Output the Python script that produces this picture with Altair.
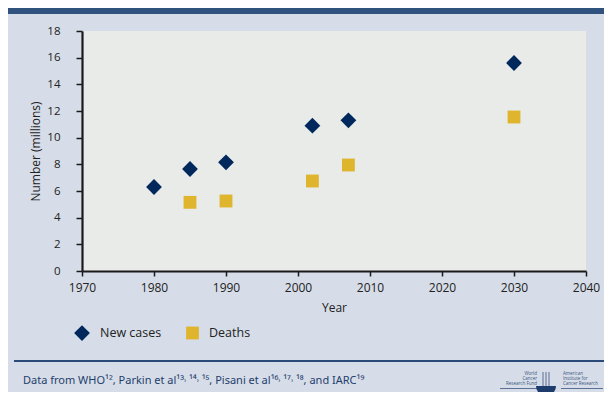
import altair as alt
import pandas as pd

# ---- data ----
years_cases = [1980, 1985, 1990, 2002, 2007, 2030]
new_cases = [6.3, 7.65, 8.15, 10.9, 11.3, 15.6]
years_deaths = [1985, 1990, 2002, 2007, 2030]
deaths = [5.15, 5.25, 6.75, 7.95, 11.55]
series_names = ["New cases", "Deaths"]
series_colors = ["#00285c", "#e0b52e"]
series_shapes = ["diamond", "square"]
series_sizes = [250, 165]
x_ticks = [1970, 1980, 1990, 2000, 2010, 2020, 2030, 2040]
y_ticks = [0, 2, 4, 6, 8, 10, 12, 14, 16, 18]
source_text = "Data from WHO¹², Parkin et al¹³˒ ¹⁴˒ ¹⁵, Pisani et al¹⁶˒ ¹⁷˒ ¹⁸, and IARC¹⁹"

df = pd.DataFrame({
    "Year": years_cases + years_deaths,
    "Value": new_cases + deaths,
    "Series": [series_names[0]] * len(years_cases) + [series_names[1]] * len(years_deaths),
})

FONT = "Open Sans"
NAVY = "#1f3d6c"
W, H = 504, 240
TOTAL_W, TOTAL_H = 596, 384
OX, OY = 82, 31  # page coordinates of the plot origin

points = alt.Chart(df).mark_point(filled=True, opacity=1, strokeWidth=0).encode(
    x=alt.X("Year:Q",
            scale=alt.Scale(domain=[1970, 2040], nice=False, zero=False),
            axis=alt.Axis(values=x_ticks, format="d", title="Year", grid=False, labelFlush=False,
                          domainColor="#1a1a1a", domainWidth=2.2, tickColor="#1a1a1a",
                          tickWidth=1.5, tickSize=5, labelFontSize=12, labelColor="#222",
                          labelFont=FONT, labelPadding=6, titleFont=FONT, titleFontSize=12,
                          titleFontWeight="normal", titleColor="#222", titlePadding=9)),
    y=alt.Y("Value:Q",
            scale=alt.Scale(domain=[0, 18], nice=False),
            axis=alt.Axis(values=y_ticks, title="Number (millions)", grid=False,
                          domainColor="#1a1a1a", domainWidth=2.2, tickColor="#1a1a1a",
                          tickWidth=1.5, tickSize=6, labelFontSize=11.5, labelColor="#222",
                          labelFont=FONT, labelPadding=16, titleFont=FONT, titleFontSize=12,
                          titleFontWeight="normal", titleColor="#222", titlePadding=4)),
    color=alt.Color("Series:N", scale=alt.Scale(domain=series_names, range=series_colors),
                    legend=alt.Legend(title=None, orient="none", legendX=-8, legendY=294,
                                      direction="horizontal", labelFont=FONT, labelFontSize=12.5,
                                      labelColor="#222", labelOffset=10, columnPadding=24,
                                      symbolStrokeWidth=0)),
    shape=alt.Shape("Series:N", scale=alt.Scale(domain=series_names, range=series_shapes)),
    size=alt.Size("Series:N", scale=alt.Scale(domain=series_names, range=series_sizes)),
)

one = pd.DataFrame({"k": [0]})


def txt(s, x, y, size=11.5, color=NAVY, align="left", baseline="middle", font=FONT):
    return alt.Chart(one).mark_text(text=s, align=align, baseline=baseline, font=font,
                                    fontSize=size, color=color).encode(
        x=alt.value(x), y=alt.value(y))


def rule(x1, x2, y, color=NAVY, width=2.0):
    return alt.Chart(one).mark_rule(color=color, strokeWidth=width).encode(
        x=alt.value(x1), x2=alt.value(x2), y=alt.value(y))


# header bar
header = alt.Chart(one).mark_rect(color="#30527f").encode(
    x=alt.value(8 - OX), x2=alt.value(8 + TOTAL_W - OX), y=alt.value(8 - OY), y2=alt.value(14 - OY))

layers = [header, points, rule(14 - OX, 8 + TOTAL_W - OX, 361 - OY, color="#2a4a78", width=2.2)]

# footer source text
layers.append(txt(source_text, 23 - OX, 381 - OY, size=11, font="Noto Sans"))

# small logo (World Cancer Research Fund / American Institute for Cancer Research)
lc = "#3a5680"
LX = -5
for i, s in enumerate(["World", "Cancer", "Research Fund"]):
    layers.append(txt(s, 542 + LX - OX, 374 + 5 * i - OY, size=4.5, color=lc, align="right"))
for i, s in enumerate(["American", "Institute for", "Cancer Research"]):
    layers.append(txt(s, 568 + LX - OX, 374 + 5 * i - OY, size=4.5, color=lc, align="left"))
layers.append(rule(505 + LX - OX, 544 + LX - OX, 388.5 - OY, color=lc, width=0.8))
layers.append(rule(566 + LX - OX, 603 - OX, 388.5 - OY, color=lc, width=0.8))
layers.append(alt.Chart(one).mark_arc(theta=1.5708, theta2=4.7124, outerRadius=10,
                                      color="#1f3d6c").encode(
    x=alt.value(551 + LX - OX), y=alt.value(386 - OY)))
for dx in (-3, 0, 3):
    layers.append(alt.Chart(one).mark_rule(color=lc, strokeWidth=0.8).encode(
        x=alt.value(551 + LX + dx - OX), y=alt.value(372 - OY), y2=alt.value(386 - OY)))

chart = alt.layer(*layers).properties(
    width=W, height=H,
    autosize=alt.AutoSizeParams(type="none"),
    padding={"left": OX - 8, "top": OY - 8, "right": TOTAL_W - (OX - 8) - W,
             "bottom": TOTAL_H - (OY - 8) - H},
    background="#d6dde8",
).configure_view(fill="#e9ebe8", stroke=None).resolve_scale(
    color="shared", shape="shared", size="shared")

chart.save("out.html", embed_options={"renderer": "svg", "actions": False})
